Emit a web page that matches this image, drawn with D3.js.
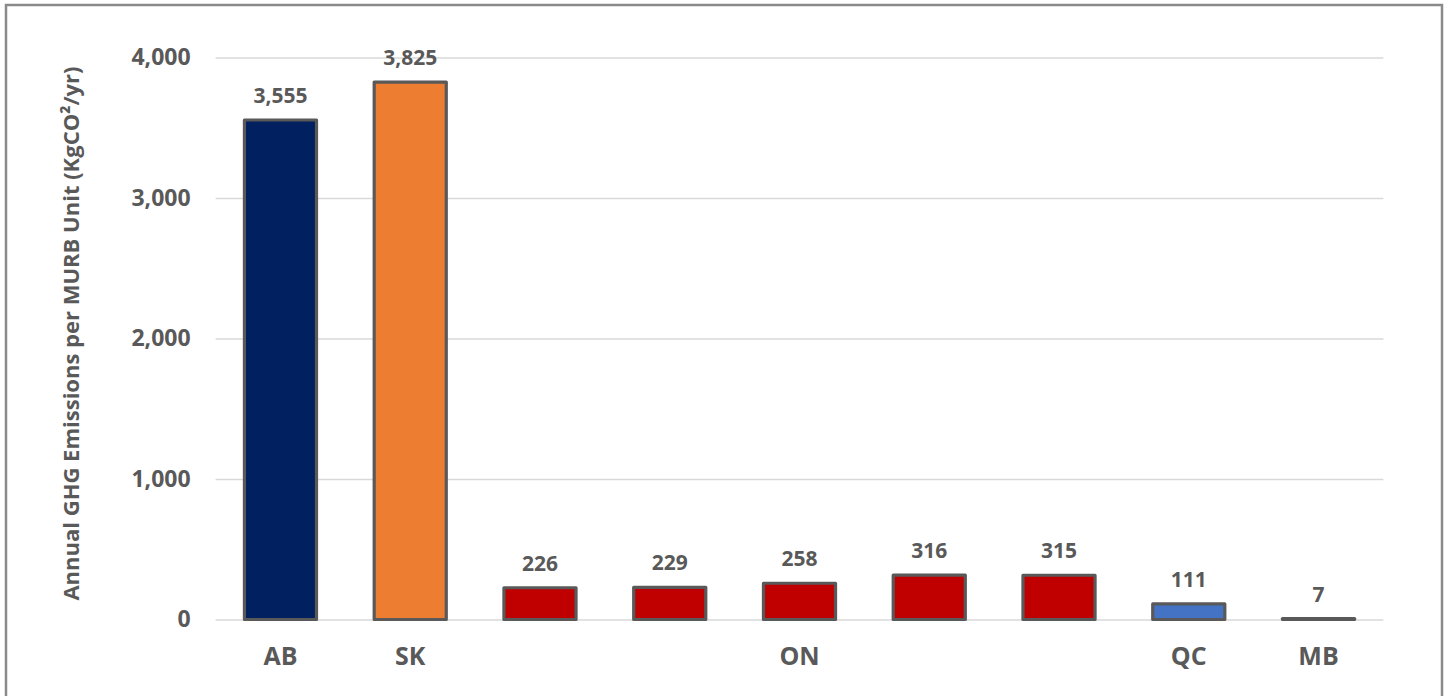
<!DOCTYPE html>
<html>
<head>
<meta charset="utf-8">
<script src="https://cdn.jsdelivr.net/npm/d3@7"></script>
<style>
  html, body { margin: 0; padding: 0; background: #ffffff; }
  svg { display: block; }
  text { font-family: "Open Sans", "DejaVu Sans", sans-serif; font-weight: 700; fill: #595959; }
</style>
</head>
<body>
<svg id="chart" width="1448" height="696"></svg>
<script>
// Annual GHG emissions per MURB unit, by province
const barIds    = ["AB", "SK", "ON1", "ON2", "ON3", "ON4", "ON5", "QC", "MB"];
const values    = [3555, 3825, 226, 229, 258, 316, 315, 111, 7];
const barColors = ["#002060", "#ED7D31", "#C00000", "#C00000", "#C00000", "#C00000", "#C00000", "#4472C4", "#4472C4"];

// Province labels under the axis: label text and the bar it sits beneath
const groupLabels = ["AB", "SK", "ON", "QC", "MB"];
const groupAnchor = ["AB", "SK", "ON3", "QC", "MB"];

const yTicks = [0, 1000, 2000, 3000, 4000];
const yTitle = "Annual GHG Emissions per MURB Unit (KgCO\u00B2/yr)";

const svg = d3.select("#chart");

// outer frame
svg.append("rect")
  .attr("x", 6).attr("y", 5)
  .attr("width", 1436).attr("height", 720)
  .attr("fill", "none")
  .attr("stroke", "#8a8a8a")
  .attr("stroke-width", 2.5);

const plot = { left: 215.6, right: 1383.4, top: 57.5, bottom: 619.5 };

const x = d3.scaleBand()
  .domain(barIds)
  .range([plot.left, plot.right])
  .paddingInner(0.4445)
  .paddingOuter(0.2222);

const y = d3.scaleLinear()
  .domain([0, 4000])
  .range([plot.bottom, plot.top]);

// horizontal gridlines + tick labels
const yAxis = d3.axisLeft(y)
  .tickValues(yTicks)
  .tickSize(-(plot.right - plot.left))
  .tickPadding(25)
  .tickFormat(d3.format(","));

const gy = svg.append("g")
  .attr("transform", `translate(${plot.left},0)`)
  .call(yAxis);
gy.select(".domain").remove();
gy.selectAll(".tick line").attr("stroke", "#d9d9d9").attr("stroke-width", 1.5);
gy.selectAll(".tick text")
  .attr("fill", "#595959")
  .style("font-size", "23px");

// bars
svg.append("g")
  .selectAll("rect")
  .data(values)
  .join("rect")
  .attr("x", (d, i) => x(barIds[i]))
  .attr("y", d => y(d))
  .attr("width", x.bandwidth())
  .attr("height", d => y(0) - y(d))
  .attr("fill", (d, i) => barColors[i])
  .attr("stroke", "#595959")
  .attr("stroke-width", 3.2)
  .attr("stroke-linejoin", "round");

// value labels
svg.append("g")
  .selectAll("text")
  .data(values)
  .join("text")
  .attr("x", (d, i) => x(barIds[i]) + x.bandwidth() / 2)
  .attr("y", d => y(d) - 17)
  .attr("text-anchor", "middle")
  .style("font-size", "21px")
  .text(d => d3.format(",")(d));

// province labels
svg.append("g")
  .selectAll("text")
  .data(groupLabels)
  .join("text")
  .attr("x", (d, i) => x(groupAnchor[i]) + x.bandwidth() / 2)
  .attr("y", 665)
  .attr("text-anchor", "middle")
  .style("font-size", "25px")
  .text(d => d);

// y-axis title
svg.append("text")
  .attr("transform", "translate(79, 333.5) rotate(-90)")
  .attr("text-anchor", "middle")
  .style("font-size", "22px")
  .text(yTitle);
</script>
</body>
</html>
